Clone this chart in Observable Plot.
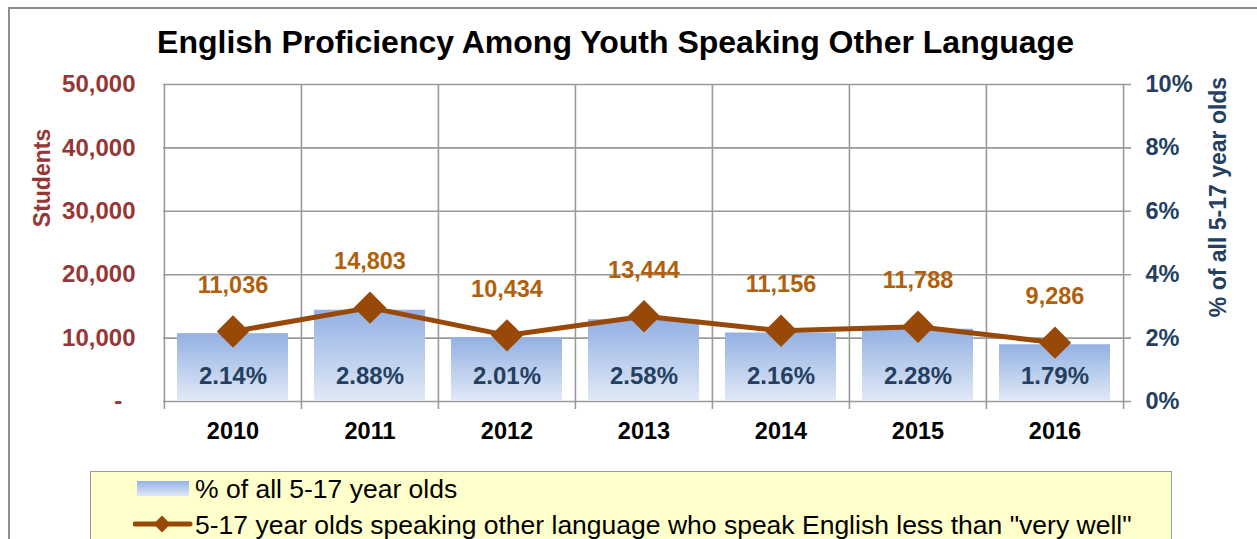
<!DOCTYPE html>
<html>
<head>
<meta charset="utf-8">
<script src="https://cdn.jsdelivr.net/npm/d3@7"></script>
<script src="https://cdn.jsdelivr.net/npm/@observablehq/plot@0.6"></script>
<style>
  html, body { margin: 0; padding: 0; background: #fff; }
  body { font-family: "Liberation Sans", Arial, sans-serif; }
  #wrap { position: relative; width: 1257px; height: 539px; overflow: hidden; background: #fff; }
  #wrap svg.plot { position: absolute; left: 0; top: 0; }
  .abs { position: absolute; white-space: nowrap; line-height: 1; }
</style>
</head>
<body>
<div id="wrap"></div>
<script>
// ---- data ----
const years = ["2010", "2011", "2012", "2013", "2014", "2015", "2016"];
const pctValues = [2.14, 2.88, 2.01, 2.58, 2.16, 2.28, 1.79];          // % of all 5-17 year olds
const countValues = [11036, 14803, 10434, 13444, 11156, 11788, 9286];   // students speaking English less than "very well"
const yTicks = [0, 10000, 20000, 30000, 40000, 50000];
const pctTicks = [0, 2, 4, 6, 8, 10];

const titleText = "English Proficiency Among Youth Speaking Other Language";
const leftLabel = "Students";
const rightLabel = "% of all 5-17 year olds";
const legendBar = "% of all 5-17 year olds";
const legendLine = "5-17 year olds speaking other language who speak English less than \"very well\"";

const pctData = years.map((y, i) => ({year: y, pct: pctValues[i]}));
const countData = years.map((y, i) => ({year: y, count: countValues[i]}));
const pctScale = 50000 / 10; // 10% on the right axis == 50,000 on the left

const W = 1257, H = 539;
const mL = 163, mR = 134, mT = 84, mB = 138;
const step = (W - mL - mR) / years.length;

const grid = "#9a9a9a";
const lineColor = "#984807";
const labelOrange = "#b25f0c";
const red = "#953735";
const navy = "#243f60";
const font = "'Liberation Sans', Arial, sans-serif";

function defs() {
  const ns = "http://www.w3.org/2000/svg";
  const g = document.createElementNS(ns, "defs");
  const lg = document.createElementNS(ns, "linearGradient");
  lg.setAttribute("id", "barGrad");
  lg.setAttribute("x1", "0"); lg.setAttribute("y1", "0");
  lg.setAttribute("x2", "0"); lg.setAttribute("y2", "1");
  [["0%", "#93b1e3"], ["100%", "#e1e9f6"]].forEach(([o, c]) => {
    const s = document.createElementNS(ns, "stop");
    s.setAttribute("offset", o); s.setAttribute("stop-color", c);
    lg.appendChild(s);
  });
  g.appendChild(lg);
  return g;
}

const chart = Plot.plot({
  width: W, height: H,
  marginLeft: mL, marginRight: mR, marginTop: mT, marginBottom: mB,
  style: {fontFamily: font, background: "transparent", overflow: "visible"},
  x: {type: "band", domain: years, paddingInner: 0.19, paddingOuter: 0.095, label: null},
  y: {domain: [0, 50000], label: null},
  marks: [
    defs,
    Plot.ruleY(yTicks, {y: d => d, stroke: grid, strokeWidth: 1.6, insetRight: -8}),
    Plot.ruleX(years, {x: d => d, dx: -step / 2, stroke: grid, strokeWidth: 1.6, insetBottom: -8}),
    Plot.ruleX(years.slice(-1), {x: d => d, dx: step / 2, stroke: grid, strokeWidth: 1.6, insetBottom: -8}),
    Plot.barY(pctData, {x: "year", y: d => d.pct * pctScale, fill: "url(#barGrad)"}),
    Plot.text(pctData, {x: "year", frameAnchor: "bottom", dy: -18, text: d => d3.format(".2f")(d.pct) + "%",
      fill: navy, fontSize: 24, fontWeight: "bold"}),
    Plot.line(countData, {x: "year", y: "count", stroke: lineColor, strokeWidth: 5}),
    Plot.dot(countData, {x: "year", y: "count", symbol: "diamond2", r: 14.6, fill: lineColor, stroke: "none"}),
    Plot.text(countData, {x: "year", y: "count", dy: -46, text: d => d3.format(",")(d.count),
      fill: labelOrange, fontSize: 23.5, fontWeight: "bold"}),
    Plot.axisY({anchor: "left", ticks: yTicks, tickSize: 0, tickPadding: 28, label: null,
      tickFormat: d => d === 0 ? "-\u00a0\u00a0" : d3.format(",")(d),
      fill: red, fontSize: 24, fontWeight: "bold"}),
    Plot.axisY({anchor: "right", ticks: yTicks, tickSize: 0, tickPadding: 22, label: null,
      tickFormat: d => pctTicks[yTicks.indexOf(d)] + "%",
      fill: navy, fontSize: 23.5, fontWeight: "bold"}),
    Plot.axisX({anchor: "bottom", tickSize: 0, tickPadding: 21, label: null,
      fill: "#000", fontSize: 23.5, fontWeight: "bold"})
  ]
});
chart.classList.add("plot");

const wrap = document.getElementById("wrap");
wrap.appendChild(chart);

function addDiv(text, css) {
  const d = document.createElement("div");
  d.className = "abs";
  d.textContent = text;
  Object.assign(d.style, css);
  wrap.appendChild(d);
  return d;
}

// outer chart border
const border = document.createElement("div");
Object.assign(border.style, {position: "absolute", left: "8px", top: "7px", width: "1400px", height: "700px",
  borderLeft: "2px solid #8e8e8e", borderTop: "2px solid #8e8e8e"});
wrap.appendChild(border);

// title
addDiv(titleText, {left: "0px", width: "1231px", textAlign: "center", top: "26px",
  fontSize: "32px", fontWeight: "bold", color: "#000"});

// rotated axis titles
addDiv(leftLabel, {left: "42px", top: "178px", transform: "translate(-50%,-50%) rotate(-90deg)",
  fontSize: "23px", fontWeight: "bold", color: red});
addDiv(rightLabel, {left: "1218px", top: "197px", transform: "translate(-50%,-50%) rotate(-90deg)",
  fontSize: "23px", fontWeight: "bold", color: navy});

// legend
const legend = document.createElement("div");
Object.assign(legend.style, {position: "absolute", left: "90px", top: "471px", width: "1082px", height: "200px",
  background: "#ffffcc", border: "1.5px solid #9a9a9a", boxSizing: "border-box"});
wrap.appendChild(legend);

const sw = document.createElement("div");
Object.assign(sw.style, {position: "absolute", left: "137px", top: "481px", width: "52px", height: "15px",
  background: "linear-gradient(#93b1e3, #e1e9f6)"});
wrap.appendChild(sw);
addDiv(legendBar, {left: "195px", top: "476px", fontSize: "26.5px", color: "#000"});

const ns = "http://www.w3.org/2000/svg";
const ls = document.createElementNS(ns, "svg");
ls.setAttribute("width", "60"); ls.setAttribute("height", "24");
Object.assign(ls.style, {position: "absolute", left: "133px", top: "512px"});
ls.innerHTML = `<line x1="2" x2="57" y1="12" y2="12" stroke="${lineColor}" stroke-width="5" stroke-linecap="round"/>
  <path d="M29,3.5 L37.5,12 L29,20.5 L20.5,12 Z" fill="${lineColor}"/>`;
wrap.appendChild(ls);
addDiv(legendLine, {left: "195px", top: "512px", fontSize: "26.5px", color: "#000"});
</script>
</body>
</html>
